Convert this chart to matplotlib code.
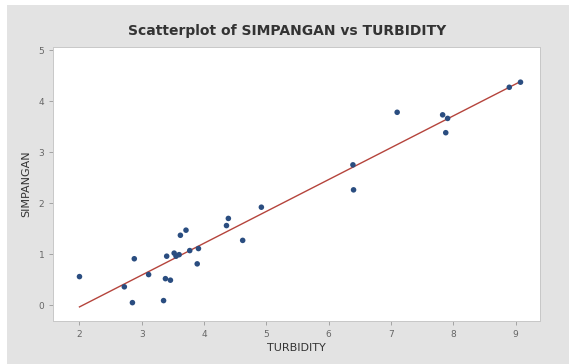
import numpy as np
import matplotlib.pyplot as plt
from matplotlib.patches import Rectangle

# values
turbidity = [2.00, 2.72, 2.88, 2.85, 3.11, 3.35, 3.38, 3.46, 3.40, 3.52,
             3.55, 3.60, 3.62, 3.71, 3.77, 3.89, 3.91, 4.36, 4.39, 4.62,
             4.92, 6.39, 6.40, 7.10, 7.83, 7.91, 7.88, 8.90, 9.08]
simpangan = [0.56, 0.36, 0.91, 0.05, 0.60, 0.09, 0.52, 0.49, 0.96, 1.02,
             0.96, 0.99, 1.37, 1.47, 1.07, 0.81, 1.11, 1.56, 1.70, 1.27,
             1.92, 2.75, 2.26, 3.78, 3.73, 3.66, 3.38, 4.27, 4.37]
xticks = [2, 3, 4, 5, 6, 7, 8, 9]
yticks = [0, 1, 2, 3, 4, 5]

x = np.array(turbidity)
y = np.array(simpangan)
b, a = np.polyfit(x, y, 1)
xf = np.array([x.min(), x.max()])

fig = plt.figure(figsize=(5.69, 3.64), dpi=100, facecolor='white')
fig.patches.append(Rectangle((0.012, 0), 0.988, 1 - 5/364, transform=fig.transFigure,
                             facecolor='#e3e3e3', edgecolor='none', zorder=-1))
ax = fig.add_axes([0.0937, 0.1195, 0.855, 0.7515])
ax.set_facecolor('white')

ax.plot(xf, a + b * xf, color='#b5443c', lw=1.0, zorder=2)
ax.scatter(x, y, s=16, color='#2a4d80', zorder=3, edgecolors='none')

ax.set_xlim(1.58, 9.39)
ax.set_ylim(-0.3, 5.06)
ax.set_xticks(xticks)
ax.set_yticks(yticks)
ax.tick_params(labelsize=6.5, colors='#9a9a9a', labelcolor='#666666', length=3, width=0.6)
for s in ax.spines.values():
    s.set_color('#c8c8c8')
    s.set_linewidth(0.7)

ax.set_xlabel('TURBIDITY', fontsize=8, color='#333333', labelpad=3)
ax.set_ylabel('SIMPANGAN', fontsize=8, color='#333333', labelpad=5)
fig.text(0.505, 0.915, 'Scatterplot of SIMPANGAN vs TURBIDITY', ha='center', va='center',
         fontsize=10, fontweight='bold', color='#333333')

fig.savefig('out.png', dpi=100, facecolor=fig.get_facecolor())
